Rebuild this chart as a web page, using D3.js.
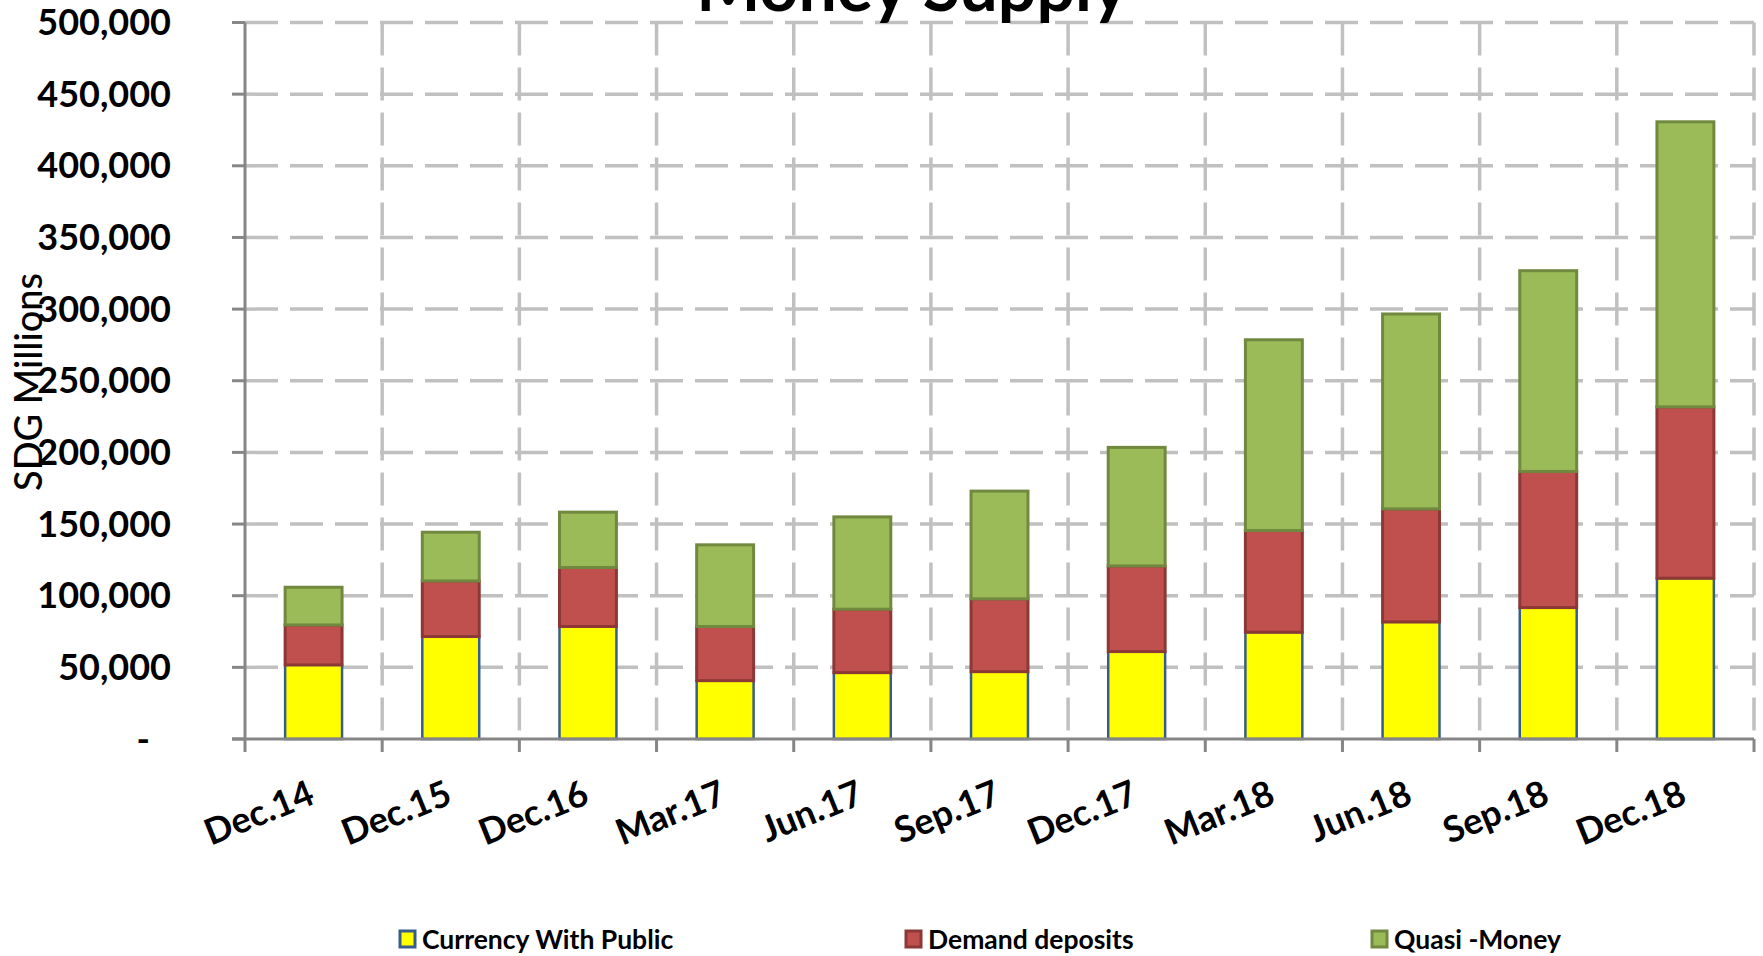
<!DOCTYPE html>
<html>
<head>
<meta charset="utf-8">
<script src="https://cdn.jsdelivr.net/npm/d3@7"></script>
<style>
	body { margin: 0; background: white; }
	text { font-family: Lato, "Open Sans", sans-serif; }
</style>
</head>
<body>
<div id="chart"></div>
<script>

let categories = ['Dec.14', 'Dec.15', 'Dec.16', 'Mar.17', 'Jun.17', 'Sep.17', 'Dec.17', 'Mar.18', 'Jun.18', 'Sep.18', 'Dec.18']

let currency = [51700, 71500, 78500, 40700, 46300, 47000, 61000, 74500, 81700, 91700, 112200]
let demand = [27900, 38800, 41200, 37800, 44300, 50800, 59800, 71000, 78900, 95000, 119600]
let quasi = [26300, 34000, 38600, 57000, 64400, 75200, 82700, 133100, 136000, 140100, 198900]

let seriesNames = ['Currency With Public', 'Demand deposits', 'Quasi -Money']
let yTicks = [0, 50000, 100000, 150000, 200000, 250000, 300000, 350000, 400000, 450000, 500000]

let fills = ['#FFFF00', '#C0504D', '#9BBB59']
let strokes = ['#385D8A', '#8C3836', '#71893F']

let width = 1763
let height = 956

let plotLeft = 245
let plotRight = 1754
let plotTop = 22.5
let plotBottom = 739

let rows = categories.map((c, i) => ({'cat': c, 'Currency With Public': currency[i], 'Demand deposits': demand[i], 'Quasi -Money': quasi[i]}))

let stacked = d3.stack().keys(seriesNames)(rows)

let xScale = d3.scaleBand()
	.domain(categories)
	.range([plotLeft, plotRight])
	.padding(0)

let yScale = d3.scaleLinear()
	.domain([0, 500000])
	.range([plotBottom, plotTop])

let barWidth = xScale.bandwidth() * 0.415

const svg = d3.select('#chart')
	.append('svg')
	.attr('width', width)
	.attr('height', height)

svg.append('rect')
	.attr('width', width)
	.attr('height', height)
	.attr('fill', 'white')

// dashed grid
svg.selectAll('.hGrid')
	.data(yTicks.slice(1))
	.enter()
	.append('line')
	.attr('x1', plotLeft)
	.attr('x2', plotRight)
	.attr('y1', d => yScale(d))
	.attr('y2', d => yScale(d))
	.attr('stroke', '#C0C0C0')
	.attr('stroke-width', 3.5)
	.attr('stroke-dasharray', '33,12')

let boundaries = categories.map(c => xScale(c)).concat([plotRight])

svg.selectAll('.vGrid')
	.data(boundaries.slice(1))
	.enter()
	.append('line')
	.attr('x1', d => d)
	.attr('x2', d => d)
	.attr('y1', plotTop)
	.attr('y2', plotBottom)
	.attr('stroke', '#C0C0C0')
	.attr('stroke-width', 3.5)
	.attr('stroke-dasharray', '33,12')

// bars
stacked.forEach(function(layer, i){

	svg.selectAll('.bar' + i)
		.data(layer)
		.enter()
		.append('rect')
		.attr('x', d => xScale(d.data.cat) + (xScale.bandwidth() - barWidth) / 2)
		.attr('y', d => yScale(d[1]))
		.attr('width', barWidth)
		.attr('height', d => yScale(d[0]) - yScale(d[1]))
		.attr('fill', fills[i])
		.attr('stroke', strokes[i])
		.attr('stroke-width', i == 0 ? 2.5 : 3)
})

// axes
svg.append('line')
	.attr('x1', plotLeft).attr('x2', plotLeft)
	.attr('y1', plotTop).attr('y2', plotBottom)
	.attr('stroke', '#868686')
	.attr('stroke-width', 3)

svg.append('line')
	.attr('x1', plotLeft - 13).attr('x2', plotRight)
	.attr('y1', plotBottom).attr('y2', plotBottom)
	.attr('stroke', '#868686')
	.attr('stroke-width', 3)

svg.selectAll('.yTick')
	.data(yTicks)
	.enter()
	.append('line')
	.attr('x1', plotLeft - 13)
	.attr('x2', plotLeft)
	.attr('y1', d => yScale(d))
	.attr('y2', d => yScale(d))
	.attr('stroke', '#868686')
	.attr('stroke-width', 3)

svg.selectAll('.xTick')
	.data(boundaries)
	.enter()
	.append('line')
	.attr('x1', d => d)
	.attr('x2', d => d)
	.attr('y1', plotBottom)
	.attr('y2', plotBottom + 13)
	.attr('stroke', '#868686')
	.attr('stroke-width', 3)

let fmt = d3.format(',')

svg.selectAll('.yLabel')
	.data(yTicks)
	.enter()
	.append('text')
	.attr('x', d => d == 0 ? 150 : 171)
	.attr('y', d => yScale(d))
	.attr('dy', '0.35em')
	.attr('text-anchor', 'end')
	.attr('font-size', 36)
	.attr('font-weight', 'bold')
	.text(d => d == 0 ? '-' : fmt(d))

svg.selectAll('.xLabel')
	.data(categories)
	.enter()
	.append('text')
	.attr('transform', d => `translate(${xScale(d) + xScale.bandwidth() / 2 + 3},${803}) rotate(-22)`)
	.attr('text-anchor', 'end')
	.attr('font-size', 36)
	.attr('font-weight', 'bold')
	.text(d => d)

svg.append('text')
	.attr('transform', 'translate(42,382) rotate(-90)')
	.attr('text-anchor', 'middle')
	.attr('font-size', 38)
	.attr('font-weight', 500)
	.text('SDG Millions')

svg.append('text')
	.attr('x', 912)
	.attr('y', 11)
	.attr('text-anchor', 'middle')
	.attr('font-size', 68)
	.attr('font-weight', 'bold')
	.text('Money Supply')

// legend
let legendX = [400, 906, 1372]

let legend = svg.selectAll('.legend')
	.data(seriesNames)
	.enter()
	.append('g')
	.attr('transform', (d, i) => `translate(${legendX[i]},931)`)

legend.append('rect')
	.attr('width', 15)
	.attr('height', 16)
	.attr('fill', (d, i) => fills[i])
	.attr('stroke', (d, i) => strokes[i])
	.attr('stroke-width', 3)

legend.append('text')
	.attr('x', 22)
	.attr('y', 8)
	.attr('dy', '0.36em')
	.attr('font-size', 26.5)
	.attr('font-weight', 'bold')
	.text(d => d)

</script>
</body>
</html>
